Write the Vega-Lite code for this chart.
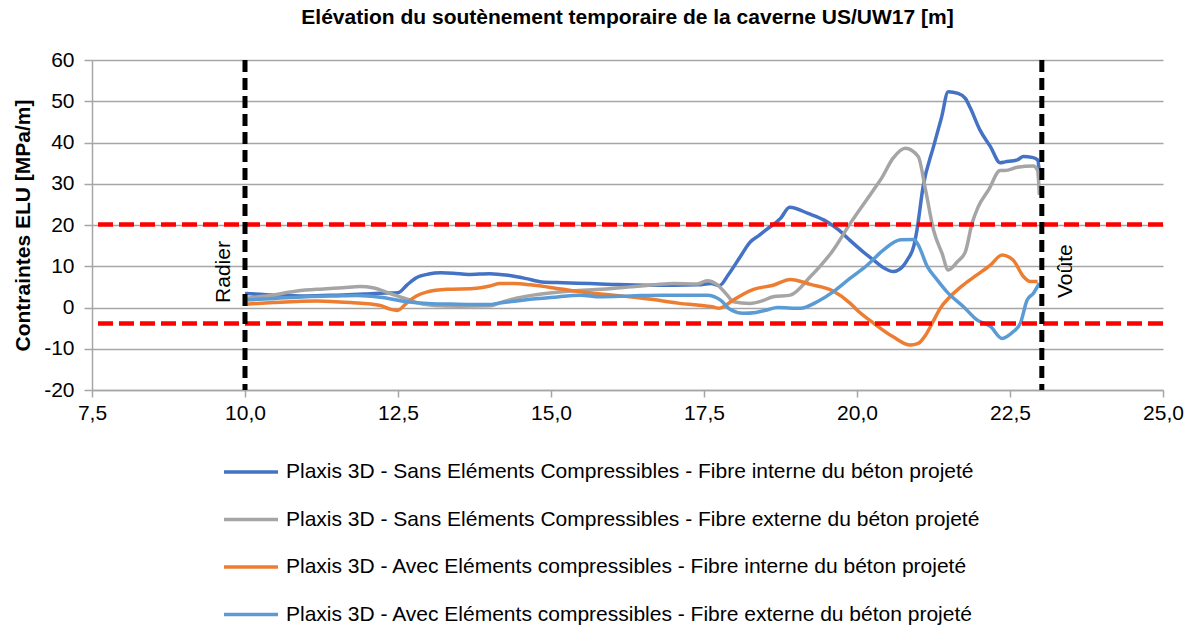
{
  "$schema": "https://vega.github.io/schema/vega-lite/v6.json",
  "width": 1071,
  "height": 330,
  "autosize": "none",
  "padding": {"left": 92, "top": 60, "right": 31, "bottom": 238},
  "background": "white",
  "config": {
    "font": "Liberation Sans",
    "view": {"stroke": null},
    "axis": {"labelFont": "Liberation Sans", "titleFont": "Liberation Sans", "labelColor": "#000000", "titleColor": "#000000"}
  },
  "title": {
    "text": "Elévation du soutènement temporaire de la caverne US/UW17 [m]",
    "font": "Liberation Sans",
    "fontSize": 21,
    "fontWeight": "bold",
    "color": "#000000",
    "anchor": "middle",
    "offset": 21
  },
  "datasets": {
    "series": [
      {"s": "Plaxis 3D - Sans Eléments Compressibles - Fibre interne du béton projeté", "x": 10.0, "y": 3.4},
      {"s": "Plaxis 3D - Sans Eléments Compressibles - Fibre interne du béton projeté", "x": 10.5, "y": 3.0},
      {"s": "Plaxis 3D - Sans Eléments Compressibles - Fibre interne du béton projeté", "x": 11.0, "y": 2.8},
      {"s": "Plaxis 3D - Sans Eléments Compressibles - Fibre interne du béton projeté", "x": 11.5, "y": 3.0},
      {"s": "Plaxis 3D - Sans Eléments Compressibles - Fibre interne du béton projeté", "x": 12.0, "y": 3.3},
      {"s": "Plaxis 3D - Sans Eléments Compressibles - Fibre interne du béton projeté", "x": 12.3, "y": 3.5},
      {"s": "Plaxis 3D - Sans Eléments Compressibles - Fibre interne du béton projeté", "x": 12.5, "y": 3.6},
      {"s": "Plaxis 3D - Sans Eléments Compressibles - Fibre interne du béton projeté", "x": 12.65, "y": 5.5},
      {"s": "Plaxis 3D - Sans Eléments Compressibles - Fibre interne du béton projeté", "x": 12.8, "y": 7.2},
      {"s": "Plaxis 3D - Sans Eléments Compressibles - Fibre interne du béton projeté", "x": 13.0, "y": 8.1},
      {"s": "Plaxis 3D - Sans Eléments Compressibles - Fibre interne du béton projeté", "x": 13.2, "y": 8.4},
      {"s": "Plaxis 3D - Sans Eléments Compressibles - Fibre interne du béton projeté", "x": 13.4, "y": 8.3},
      {"s": "Plaxis 3D - Sans Eléments Compressibles - Fibre interne du béton projeté", "x": 13.65, "y": 8.0},
      {"s": "Plaxis 3D - Sans Eléments Compressibles - Fibre interne du béton projeté", "x": 14.0, "y": 8.2},
      {"s": "Plaxis 3D - Sans Eléments Compressibles - Fibre interne du béton projeté", "x": 14.3, "y": 7.8},
      {"s": "Plaxis 3D - Sans Eléments Compressibles - Fibre interne du béton projeté", "x": 14.6, "y": 7.0},
      {"s": "Plaxis 3D - Sans Eléments Compressibles - Fibre interne du béton projeté", "x": 14.85, "y": 6.2},
      {"s": "Plaxis 3D - Sans Eléments Compressibles - Fibre interne du béton projeté", "x": 15.2, "y": 6.0},
      {"s": "Plaxis 3D - Sans Eléments Compressibles - Fibre interne du béton projeté", "x": 15.64, "y": 5.8},
      {"s": "Plaxis 3D - Sans Eléments Compressibles - Fibre interne du béton projeté", "x": 16.0, "y": 5.6},
      {"s": "Plaxis 3D - Sans Eléments Compressibles - Fibre interne du béton projeté", "x": 16.57, "y": 5.4},
      {"s": "Plaxis 3D - Sans Eléments Compressibles - Fibre interne du béton projeté", "x": 17.0, "y": 5.4},
      {"s": "Plaxis 3D - Sans Eléments Compressibles - Fibre interne du béton projeté", "x": 17.4, "y": 5.5},
      {"s": "Plaxis 3D - Sans Eléments Compressibles - Fibre interne du béton projeté", "x": 17.62, "y": 5.8},
      {"s": "Plaxis 3D - Sans Eléments Compressibles - Fibre interne du béton projeté", "x": 17.75, "y": 5.3},
      {"s": "Plaxis 3D - Sans Eléments Compressibles - Fibre interne du béton projeté", "x": 17.9, "y": 8.0},
      {"s": "Plaxis 3D - Sans Eléments Compressibles - Fibre interne du béton projeté", "x": 18.1, "y": 12.5},
      {"s": "Plaxis 3D - Sans Eléments Compressibles - Fibre interne du béton projeté", "x": 18.25, "y": 15.8},
      {"s": "Plaxis 3D - Sans Eléments Compressibles - Fibre interne du béton projeté", "x": 18.4, "y": 17.5},
      {"s": "Plaxis 3D - Sans Eléments Compressibles - Fibre interne du béton projeté", "x": 18.53, "y": 19.0},
      {"s": "Plaxis 3D - Sans Eléments Compressibles - Fibre interne du béton projeté", "x": 18.75, "y": 21.6},
      {"s": "Plaxis 3D - Sans Eléments Compressibles - Fibre interne du béton projeté", "x": 18.9, "y": 24.3},
      {"s": "Plaxis 3D - Sans Eléments Compressibles - Fibre interne du béton projeté", "x": 19.2, "y": 22.8},
      {"s": "Plaxis 3D - Sans Eléments Compressibles - Fibre interne du béton projeté", "x": 19.51, "y": 20.8},
      {"s": "Plaxis 3D - Sans Eléments Compressibles - Fibre interne du béton projeté", "x": 19.7, "y": 18.8},
      {"s": "Plaxis 3D - Sans Eléments Compressibles - Fibre interne du béton projeté", "x": 19.89, "y": 16.2},
      {"s": "Plaxis 3D - Sans Eléments Compressibles - Fibre interne du béton projeté", "x": 20.1, "y": 13.5},
      {"s": "Plaxis 3D - Sans Eléments Compressibles - Fibre interne du béton projeté", "x": 20.27, "y": 11.5},
      {"s": "Plaxis 3D - Sans Eléments Compressibles - Fibre interne du béton projeté", "x": 20.45, "y": 9.5},
      {"s": "Plaxis 3D - Sans Eléments Compressibles - Fibre interne du béton projeté", "x": 20.59, "y": 8.7},
      {"s": "Plaxis 3D - Sans Eléments Compressibles - Fibre interne du béton projeté", "x": 20.7, "y": 9.3},
      {"s": "Plaxis 3D - Sans Eléments Compressibles - Fibre interne du béton projeté", "x": 20.82, "y": 11.5},
      {"s": "Plaxis 3D - Sans Eléments Compressibles - Fibre interne du béton projeté", "x": 20.93, "y": 15.0},
      {"s": "Plaxis 3D - Sans Eléments Compressibles - Fibre interne du béton projeté", "x": 20.98, "y": 18.8},
      {"s": "Plaxis 3D - Sans Eléments Compressibles - Fibre interne du béton projeté", "x": 21.08, "y": 29.3},
      {"s": "Plaxis 3D - Sans Eléments Compressibles - Fibre interne du béton projeté", "x": 21.25, "y": 39.0},
      {"s": "Plaxis 3D - Sans Eléments Compressibles - Fibre interne du béton projeté", "x": 21.38, "y": 46.0},
      {"s": "Plaxis 3D - Sans Eléments Compressibles - Fibre interne du béton projeté", "x": 21.49, "y": 52.3},
      {"s": "Plaxis 3D - Sans Eléments Compressibles - Fibre interne du béton projeté", "x": 21.65, "y": 51.9},
      {"s": "Plaxis 3D - Sans Eléments Compressibles - Fibre interne du béton projeté", "x": 21.77, "y": 50.7},
      {"s": "Plaxis 3D - Sans Eléments Compressibles - Fibre interne du béton projeté", "x": 21.85, "y": 48.4},
      {"s": "Plaxis 3D - Sans Eléments Compressibles - Fibre interne du béton projeté", "x": 22.01, "y": 43.0},
      {"s": "Plaxis 3D - Sans Eléments Compressibles - Fibre interne du béton projeté", "x": 22.18, "y": 39.0},
      {"s": "Plaxis 3D - Sans Eléments Compressibles - Fibre interne du béton projeté", "x": 22.34, "y": 35.1},
      {"s": "Plaxis 3D - Sans Eléments Compressibles - Fibre interne du béton projeté", "x": 22.42, "y": 35.3},
      {"s": "Plaxis 3D - Sans Eléments Compressibles - Fibre interne du béton projeté", "x": 22.62, "y": 35.8},
      {"s": "Plaxis 3D - Sans Eléments Compressibles - Fibre interne du béton projeté", "x": 22.72, "y": 36.6},
      {"s": "Plaxis 3D - Sans Eléments Compressibles - Fibre interne du béton projeté", "x": 22.86, "y": 36.4},
      {"s": "Plaxis 3D - Sans Eléments Compressibles - Fibre interne du béton projeté", "x": 22.95, "y": 35.8},
      {"s": "Plaxis 3D - Sans Eléments Compressibles - Fibre interne du béton projeté", "x": 22.98, "y": 33.0},

      {"s": "Plaxis 3D - Sans Eléments Compressibles - Fibre externe du béton projeté", "x": 10.0, "y": 2.2},
      {"s": "Plaxis 3D - Sans Eléments Compressibles - Fibre externe du béton projeté", "x": 10.4, "y": 2.9},
      {"s": "Plaxis 3D - Sans Eléments Compressibles - Fibre externe du béton projeté", "x": 10.85, "y": 4.0},
      {"s": "Plaxis 3D - Sans Eléments Compressibles - Fibre externe du béton projeté", "x": 11.28, "y": 4.5},
      {"s": "Plaxis 3D - Sans Eléments Compressibles - Fibre externe du béton projeté", "x": 11.6, "y": 4.8},
      {"s": "Plaxis 3D - Sans Eléments Compressibles - Fibre externe du béton projeté", "x": 11.88, "y": 5.1},
      {"s": "Plaxis 3D - Sans Eléments Compressibles - Fibre externe du béton projeté", "x": 12.09, "y": 4.8},
      {"s": "Plaxis 3D - Sans Eléments Compressibles - Fibre externe du béton projeté", "x": 12.37, "y": 3.4},
      {"s": "Plaxis 3D - Sans Eléments Compressibles - Fibre externe du béton projeté", "x": 12.65, "y": 2.0},
      {"s": "Plaxis 3D - Sans Eléments Compressibles - Fibre externe du béton projeté", "x": 12.85, "y": 1.0},
      {"s": "Plaxis 3D - Sans Eléments Compressibles - Fibre externe du béton projeté", "x": 13.1, "y": 0.5},
      {"s": "Plaxis 3D - Sans Eléments Compressibles - Fibre externe du béton projeté", "x": 13.5, "y": 0.3},
      {"s": "Plaxis 3D - Sans Eléments Compressibles - Fibre externe du béton projeté", "x": 14.0, "y": 0.4},
      {"s": "Plaxis 3D - Sans Eléments Compressibles - Fibre externe du béton projeté", "x": 14.2, "y": 1.3},
      {"s": "Plaxis 3D - Sans Eléments Compressibles - Fibre externe du béton projeté", "x": 14.45, "y": 2.3},
      {"s": "Plaxis 3D - Sans Eléments Compressibles - Fibre externe du béton projeté", "x": 14.71, "y": 3.0},
      {"s": "Plaxis 3D - Sans Eléments Compressibles - Fibre externe du béton projeté", "x": 15.1, "y": 3.7},
      {"s": "Plaxis 3D - Sans Eléments Compressibles - Fibre externe du béton projeté", "x": 15.52, "y": 4.2},
      {"s": "Plaxis 3D - Sans Eléments Compressibles - Fibre externe du béton projeté", "x": 16.0, "y": 4.6},
      {"s": "Plaxis 3D - Sans Eléments Compressibles - Fibre externe du béton projeté", "x": 16.3, "y": 5.0},
      {"s": "Plaxis 3D - Sans Eléments Compressibles - Fibre externe du béton projeté", "x": 16.7, "y": 5.5},
      {"s": "Plaxis 3D - Sans Eléments Compressibles - Fibre externe du béton projeté", "x": 17.0, "y": 5.8},
      {"s": "Plaxis 3D - Sans Eléments Compressibles - Fibre externe du béton projeté", "x": 17.39, "y": 5.7},
      {"s": "Plaxis 3D - Sans Eléments Compressibles - Fibre externe du béton projeté", "x": 17.55, "y": 6.5},
      {"s": "Plaxis 3D - Sans Eléments Compressibles - Fibre externe du béton projeté", "x": 17.72, "y": 5.5},
      {"s": "Plaxis 3D - Sans Eléments Compressibles - Fibre externe du béton projeté", "x": 17.88, "y": 3.0},
      {"s": "Plaxis 3D - Sans Eléments Compressibles - Fibre externe du béton projeté", "x": 17.98, "y": 1.4},
      {"s": "Plaxis 3D - Sans Eléments Compressibles - Fibre externe du béton projeté", "x": 18.25, "y": 1.0},
      {"s": "Plaxis 3D - Sans Eléments Compressibles - Fibre externe du béton projeté", "x": 18.45, "y": 1.6},
      {"s": "Plaxis 3D - Sans Eléments Compressibles - Fibre externe du béton projeté", "x": 18.63, "y": 2.6},
      {"s": "Plaxis 3D - Sans Eléments Compressibles - Fibre externe du béton projeté", "x": 18.91, "y": 3.0},
      {"s": "Plaxis 3D - Sans Eléments Compressibles - Fibre externe du béton projeté", "x": 19.24, "y": 7.5},
      {"s": "Plaxis 3D - Sans Eléments Compressibles - Fibre externe du béton projeté", "x": 19.61, "y": 13.9},
      {"s": "Plaxis 3D - Sans Eléments Compressibles - Fibre externe du béton projeté", "x": 19.89, "y": 20.4},
      {"s": "Plaxis 3D - Sans Eléments Compressibles - Fibre externe du béton projeté", "x": 20.27, "y": 28.5},
      {"s": "Plaxis 3D - Sans Eléments Compressibles - Fibre externe du béton projeté", "x": 20.4, "y": 31.3},
      {"s": "Plaxis 3D - Sans Eléments Compressibles - Fibre externe du béton projeté", "x": 20.59, "y": 36.2},
      {"s": "Plaxis 3D - Sans Eléments Compressibles - Fibre externe du béton projeté", "x": 20.79, "y": 38.6},
      {"s": "Plaxis 3D - Sans Eléments Compressibles - Fibre externe du béton projeté", "x": 21.0, "y": 36.6},
      {"s": "Plaxis 3D - Sans Eléments Compressibles - Fibre externe du béton projeté", "x": 21.12, "y": 28.5},
      {"s": "Plaxis 3D - Sans Eléments Compressibles - Fibre externe du béton projeté", "x": 21.25, "y": 18.8},
      {"s": "Plaxis 3D - Sans Eléments Compressibles - Fibre externe du béton projeté", "x": 21.39, "y": 13.1},
      {"s": "Plaxis 3D - Sans Eléments Compressibles - Fibre externe du béton projeté", "x": 21.49, "y": 9.1},
      {"s": "Plaxis 3D - Sans Eléments Compressibles - Fibre externe du béton projeté", "x": 21.64, "y": 11.1},
      {"s": "Plaxis 3D - Sans Eléments Compressibles - Fibre externe du béton projeté", "x": 21.77, "y": 13.5},
      {"s": "Plaxis 3D - Sans Eléments Compressibles - Fibre externe du béton projeté", "x": 21.88, "y": 20.4},
      {"s": "Plaxis 3D - Sans Eléments Compressibles - Fibre externe du béton projeté", "x": 21.98, "y": 24.4},
      {"s": "Plaxis 3D - Sans Eléments Compressibles - Fibre externe du béton projeté", "x": 22.15, "y": 28.5},
      {"s": "Plaxis 3D - Sans Eléments Compressibles - Fibre externe du béton projeté", "x": 22.34, "y": 33.2},
      {"s": "Plaxis 3D - Sans Eléments Compressibles - Fibre externe du béton projeté", "x": 22.42, "y": 33.2},
      {"s": "Plaxis 3D - Sans Eléments Compressibles - Fibre externe du béton projeté", "x": 22.62, "y": 34.0},
      {"s": "Plaxis 3D - Sans Eléments Compressibles - Fibre externe du béton projeté", "x": 22.88, "y": 34.3},
      {"s": "Plaxis 3D - Sans Eléments Compressibles - Fibre externe du béton projeté", "x": 22.95, "y": 33.3},
      {"s": "Plaxis 3D - Sans Eléments Compressibles - Fibre externe du béton projeté", "x": 22.98, "y": 27.3},

      {"s": "Plaxis 3D - Avec Eléments compressibles - Fibre interne du béton projeté", "x": 10.0, "y": 0.8},
      {"s": "Plaxis 3D - Avec Eléments compressibles - Fibre interne du béton projeté", "x": 10.46, "y": 1.2},
      {"s": "Plaxis 3D - Avec Eléments compressibles - Fibre interne du béton projeté", "x": 11.18, "y": 1.6},
      {"s": "Plaxis 3D - Avec Eléments compressibles - Fibre interne du béton projeté", "x": 11.72, "y": 1.2},
      {"s": "Plaxis 3D - Avec Eléments compressibles - Fibre interne du béton projeté", "x": 12.21, "y": 0.5},
      {"s": "Plaxis 3D - Avec Eléments compressibles - Fibre interne du béton projeté", "x": 12.37, "y": -0.4},
      {"s": "Plaxis 3D - Avec Eléments compressibles - Fibre interne du béton projeté", "x": 12.49, "y": -0.7},
      {"s": "Plaxis 3D - Avec Eléments compressibles - Fibre interne du béton projeté", "x": 12.65, "y": 1.2},
      {"s": "Plaxis 3D - Avec Eléments compressibles - Fibre interne du béton projeté", "x": 12.8, "y": 2.8},
      {"s": "Plaxis 3D - Avec Eléments compressibles - Fibre interne du béton projeté", "x": 12.98, "y": 3.8},
      {"s": "Plaxis 3D - Avec Eléments compressibles - Fibre interne du béton projeté", "x": 13.3, "y": 4.4},
      {"s": "Plaxis 3D - Avec Eléments compressibles - Fibre interne du béton projeté", "x": 13.73, "y": 4.6},
      {"s": "Plaxis 3D - Avec Eléments compressibles - Fibre interne du béton projeté", "x": 14.0, "y": 5.2},
      {"s": "Plaxis 3D - Avec Eléments compressibles - Fibre interne du béton projeté", "x": 14.17, "y": 5.8},
      {"s": "Plaxis 3D - Avec Eléments compressibles - Fibre interne du béton projeté", "x": 14.4, "y": 5.8},
      {"s": "Plaxis 3D - Avec Eléments compressibles - Fibre interne du béton projeté", "x": 14.66, "y": 5.5},
      {"s": "Plaxis 3D - Avec Eléments compressibles - Fibre interne du béton projeté", "x": 15.2, "y": 4.4},
      {"s": "Plaxis 3D - Avec Eléments compressibles - Fibre interne du béton projeté", "x": 15.6, "y": 3.6},
      {"s": "Plaxis 3D - Avec Eléments compressibles - Fibre interne du béton projeté", "x": 16.02, "y": 3.0},
      {"s": "Plaxis 3D - Avec Eléments compressibles - Fibre interne du béton projeté", "x": 16.4, "y": 2.4},
      {"s": "Plaxis 3D - Avec Eléments compressibles - Fibre interne du béton projeté", "x": 16.83, "y": 1.6},
      {"s": "Plaxis 3D - Avec Eléments compressibles - Fibre interne du béton projeté", "x": 17.1, "y": 1.0},
      {"s": "Plaxis 3D - Avec Eléments compressibles - Fibre interne du béton projeté", "x": 17.39, "y": 0.6},
      {"s": "Plaxis 3D - Avec Eléments compressibles - Fibre interne du béton projeté", "x": 17.65, "y": 0.1},
      {"s": "Plaxis 3D - Avec Eléments compressibles - Fibre interne du béton projeté", "x": 17.75, "y": -0.2},
      {"s": "Plaxis 3D - Avec Eléments compressibles - Fibre interne du béton projeté", "x": 17.88, "y": 0.8},
      {"s": "Plaxis 3D - Avec Eléments compressibles - Fibre interne du béton projeté", "x": 17.98, "y": 1.8},
      {"s": "Plaxis 3D - Avec Eléments compressibles - Fibre interne du béton projeté", "x": 18.31, "y": 4.4},
      {"s": "Plaxis 3D - Avec Eléments compressibles - Fibre interne du béton projeté", "x": 18.63, "y": 5.4},
      {"s": "Plaxis 3D - Avec Eléments compressibles - Fibre interne du béton projeté", "x": 18.91, "y": 6.8},
      {"s": "Plaxis 3D - Avec Eléments compressibles - Fibre interne du béton projeté", "x": 19.24, "y": 5.6},
      {"s": "Plaxis 3D - Avec Eléments compressibles - Fibre interne du béton projeté", "x": 19.61, "y": 4.0},
      {"s": "Plaxis 3D - Avec Eléments compressibles - Fibre interne du béton projeté", "x": 19.89, "y": 1.0},
      {"s": "Plaxis 3D - Avec Eléments compressibles - Fibre interne du béton projeté", "x": 20.0, "y": -0.6},
      {"s": "Plaxis 3D - Avec Eléments compressibles - Fibre interne du béton projeté", "x": 20.27, "y": -3.8},
      {"s": "Plaxis 3D - Avec Eléments compressibles - Fibre interne du béton projeté", "x": 20.59, "y": -7.1},
      {"s": "Plaxis 3D - Avec Eléments compressibles - Fibre interne du béton projeté", "x": 20.87, "y": -9.1},
      {"s": "Plaxis 3D - Avec Eléments compressibles - Fibre interne du béton projeté", "x": 21.0, "y": -8.7},
      {"s": "Plaxis 3D - Avec Eléments compressibles - Fibre interne du béton projeté", "x": 21.12, "y": -6.7},
      {"s": "Plaxis 3D - Avec Eléments compressibles - Fibre interne du béton projeté", "x": 21.23, "y": -3.8},
      {"s": "Plaxis 3D - Avec Eléments compressibles - Fibre interne du béton projeté", "x": 21.36, "y": -0.2},
      {"s": "Plaxis 3D - Avec Eléments compressibles - Fibre interne du béton projeté", "x": 21.52, "y": 2.6},
      {"s": "Plaxis 3D - Avec Eléments compressibles - Fibre interne du béton projeté", "x": 21.74, "y": 5.5},
      {"s": "Plaxis 3D - Avec Eléments compressibles - Fibre interne du béton projeté", "x": 21.96, "y": 7.9},
      {"s": "Plaxis 3D - Avec Eléments compressibles - Fibre interne du béton projeté", "x": 22.18, "y": 10.3},
      {"s": "Plaxis 3D - Avec Eléments compressibles - Fibre interne du béton projeté", "x": 22.37, "y": 12.7},
      {"s": "Plaxis 3D - Avec Eléments compressibles - Fibre interne du béton projeté", "x": 22.55, "y": 11.5},
      {"s": "Plaxis 3D - Avec Eléments compressibles - Fibre interne du béton projeté", "x": 22.72, "y": 7.5},
      {"s": "Plaxis 3D - Avec Eléments compressibles - Fibre interne du béton projeté", "x": 22.83, "y": 6.3},
      {"s": "Plaxis 3D - Avec Eléments compressibles - Fibre interne du béton projeté", "x": 22.95, "y": 6.3},

      {"s": "Plaxis 3D - Avec Eléments compressibles - Fibre externe du béton projeté", "x": 10.0, "y": 1.8},
      {"s": "Plaxis 3D - Avec Eléments compressibles - Fibre externe du béton projeté", "x": 10.5, "y": 2.2},
      {"s": "Plaxis 3D - Avec Eléments compressibles - Fibre externe du béton projeté", "x": 11.0, "y": 2.6},
      {"s": "Plaxis 3D - Avec Eléments compressibles - Fibre externe du béton projeté", "x": 11.5, "y": 2.8},
      {"s": "Plaxis 3D - Avec Eléments compressibles - Fibre externe du béton projeté", "x": 11.83, "y": 2.9},
      {"s": "Plaxis 3D - Avec Eléments compressibles - Fibre externe du béton projeté", "x": 12.21, "y": 2.5},
      {"s": "Plaxis 3D - Avec Eléments compressibles - Fibre externe du béton projeté", "x": 12.65, "y": 1.4},
      {"s": "Plaxis 3D - Avec Eléments compressibles - Fibre externe du béton projeté", "x": 12.98, "y": 1.0},
      {"s": "Plaxis 3D - Avec Eléments compressibles - Fibre externe du béton projeté", "x": 13.47, "y": 0.8},
      {"s": "Plaxis 3D - Avec Eléments compressibles - Fibre externe du béton projeté", "x": 14.0, "y": 0.7},
      {"s": "Plaxis 3D - Avec Eléments compressibles - Fibre externe du béton projeté", "x": 14.12, "y": 1.0},
      {"s": "Plaxis 3D - Avec Eléments compressibles - Fibre externe du béton projeté", "x": 14.4, "y": 1.5},
      {"s": "Plaxis 3D - Avec Eléments compressibles - Fibre externe du béton projeté", "x": 14.66, "y": 2.0},
      {"s": "Plaxis 3D - Avec Eléments compressibles - Fibre externe du béton projeté", "x": 15.0, "y": 2.4},
      {"s": "Plaxis 3D - Avec Eléments compressibles - Fibre externe du béton projeté", "x": 15.48, "y": 3.0},
      {"s": "Plaxis 3D - Avec Eléments compressibles - Fibre externe du béton projeté", "x": 15.8, "y": 2.6},
      {"s": "Plaxis 3D - Avec Eléments compressibles - Fibre externe du béton projeté", "x": 16.3, "y": 2.8},
      {"s": "Plaxis 3D - Avec Eléments compressibles - Fibre externe du béton projeté", "x": 16.83, "y": 3.0},
      {"s": "Plaxis 3D - Avec Eléments compressibles - Fibre externe du béton projeté", "x": 17.55, "y": 3.0},
      {"s": "Plaxis 3D - Avec Eléments compressibles - Fibre externe du béton projeté", "x": 17.77, "y": 1.8},
      {"s": "Plaxis 3D - Avec Eléments compressibles - Fibre externe du béton projeté", "x": 17.93, "y": -0.5},
      {"s": "Plaxis 3D - Avec Eléments compressibles - Fibre externe du béton projeté", "x": 18.14, "y": -1.4},
      {"s": "Plaxis 3D - Avec Eléments compressibles - Fibre externe du béton projeté", "x": 18.35, "y": -1.2},
      {"s": "Plaxis 3D - Avec Eléments compressibles - Fibre externe du béton projeté", "x": 18.53, "y": -0.6},
      {"s": "Plaxis 3D - Avec Eléments compressibles - Fibre externe du béton projeté", "x": 18.7, "y": 0.0},
      {"s": "Plaxis 3D - Avec Eléments compressibles - Fibre externe du béton projeté", "x": 19.07, "y": -0.2},
      {"s": "Plaxis 3D - Avec Eléments compressibles - Fibre externe du béton projeté", "x": 19.2, "y": 0.3},
      {"s": "Plaxis 3D - Avec Eléments compressibles - Fibre externe du béton projeté", "x": 19.35, "y": 1.4},
      {"s": "Plaxis 3D - Avec Eléments compressibles - Fibre externe du béton projeté", "x": 19.61, "y": 3.8},
      {"s": "Plaxis 3D - Avec Eléments compressibles - Fibre externe du béton projeté", "x": 19.89, "y": 7.1},
      {"s": "Plaxis 3D - Avec Eléments compressibles - Fibre externe du béton projeté", "x": 20.17, "y": 10.3},
      {"s": "Plaxis 3D - Avec Eléments compressibles - Fibre externe du béton projeté", "x": 20.43, "y": 13.9},
      {"s": "Plaxis 3D - Avec Eléments compressibles - Fibre externe du béton projeté", "x": 20.71, "y": 16.4},
      {"s": "Plaxis 3D - Avec Eléments compressibles - Fibre externe du béton projeté", "x": 20.93, "y": 16.5},
      {"s": "Plaxis 3D - Avec Eléments compressibles - Fibre externe du béton projeté", "x": 21.0, "y": 15.2},
      {"s": "Plaxis 3D - Avec Eléments compressibles - Fibre externe du béton projeté", "x": 21.15, "y": 9.9},
      {"s": "Plaxis 3D - Avec Eléments compressibles - Fibre externe du béton projeté", "x": 21.31, "y": 6.7},
      {"s": "Plaxis 3D - Avec Eléments compressibles - Fibre externe du béton projeté", "x": 21.47, "y": 3.8},
      {"s": "Plaxis 3D - Avec Eléments compressibles - Fibre externe du béton projeté", "x": 21.74, "y": 0.2},
      {"s": "Plaxis 3D - Avec Eléments compressibles - Fibre externe du béton projeté", "x": 21.96, "y": -3.0},
      {"s": "Plaxis 3D - Avec Eléments compressibles - Fibre externe du béton projeté", "x": 22.18, "y": -4.6},
      {"s": "Plaxis 3D - Avec Eléments compressibles - Fibre externe du béton projeté", "x": 22.37, "y": -7.5},
      {"s": "Plaxis 3D - Avec Eléments compressibles - Fibre externe du béton projeté", "x": 22.55, "y": -5.9},
      {"s": "Plaxis 3D - Avec Eléments compressibles - Fibre externe du béton projeté", "x": 22.67, "y": -3.8},
      {"s": "Plaxis 3D - Avec Eléments compressibles - Fibre externe du béton projeté", "x": 22.78, "y": 1.8},
      {"s": "Plaxis 3D - Avec Eléments compressibles - Fibre externe du béton projeté", "x": 22.88, "y": 3.4},
      {"s": "Plaxis 3D - Avec Eléments compressibles - Fibre externe du béton projeté", "x": 22.98, "y": 5.9}
    ],
    "limits": [{"y": 20.1}, {"y": -3.9}],
    "sections": [{"x": 10.0}, {"x": 23.02}]
  },
  "layer": [
    {
      "data": {"name": "series"},
      "mark": {"type": "line", "strokeWidth": 3.5, "interpolate": "monotone"},
      "encoding": {
        "x": {
          "field": "x", "type": "quantitative",
          "scale": {"domain": [7.5, 25], "nice": false, "zero": false},
          "axis": {
            "values": [7.5, 10, 12.5, 15, 17.5, 20, 22.5, 25],
            "labelExpr": "replace(format(datum.value, '.1f'), '.', ',')",
            "title": null, "grid": false,
            "domainColor": "#a6a6a6", "domainWidth": 1.5,
            "tickColor": "#a6a6a6", "tickWidth": 1.5, "tickSize": 7,
            "labelFontSize": 21, "labelPadding": 5, "labelFlush": false
          }
        },
        "y": {
          "field": "y", "type": "quantitative",
          "scale": {"domain": [-20, 60], "nice": false, "zero": false},
          "axis": {
            "values": [-20, -10, 0, 10, 20, 30, 40, 50, 60],
            "labelExpr": "'' + datum.value",
            "title": "Contraintes ELU [MPa/m]",
            "titleFontSize": 21, "titleFontWeight": "bold", "titlePadding": 10,
            "grid": true, "gridColor": "#a6a6a6", "gridWidth": 1.5,
            "domainColor": "#a6a6a6", "domainWidth": 1.5,
            "tickColor": "#a6a6a6", "tickWidth": 1.5, "tickSize": 8,
            "labelFontSize": 21, "labelPadding": 10
          }
        },
        "color": {
          "field": "s", "type": "nominal",
          "scale": {
            "domain": [
              "Plaxis 3D - Sans Eléments Compressibles - Fibre interne du béton projeté",
              "Plaxis 3D - Sans Eléments Compressibles - Fibre externe du béton projeté",
              "Plaxis 3D - Avec Eléments compressibles - Fibre interne du béton projeté",
              "Plaxis 3D - Avec Eléments compressibles - Fibre externe du béton projeté"
            ],
            "range": ["#4472C4", "#A5A5A5", "#ED7D31", "#5B9BD5"]
          },
          "legend": {
            "title": null,
            "orient": "none",
            "legendX": 130,
            "legendY": 383,
            "direction": "vertical",
            "symbolType": "stroke",
            "symbolSize": 2916,
            "symbolStrokeWidth": 3.5,
            "labelFontSize": 21,
            "labelFont": "Liberation Sans",
            "labelColor": "#000000",
            "labelLimit": 900,
            "labelOffset": 6,
            "rowPadding": 8.5
          }
        }
      }
    },
    {
      "data": {"name": "limits"},
      "mark": {"type": "rule", "color": "#FF0000", "strokeWidth": 4.5, "strokeDash": [15, 6]},
      "encoding": {"y": {"field": "y", "type": "quantitative"}}
    },
    {
      "data": {"name": "sections"},
      "mark": {"type": "rule", "color": "#000000", "strokeWidth": 5, "strokeDash": [12, 6]},
      "encoding": {"x": {"field": "x", "type": "quantitative"}}
    },
    {
      "data": {"values": [{"label": "Radier", "x": 10.0, "y": 1.1}]},
      "mark": {"type": "text", "angle": 270, "align": "left", "baseline": "alphabetic", "dy": -15, "fontSize": 21, "font": "Liberation Sans", "color": "#000000"},
      "encoding": {
        "x": {"field": "x", "type": "quantitative"},
        "y": {"field": "y", "type": "quantitative"},
        "text": {"field": "label"}
      }
    },
    {
      "data": {"values": [{"label": "Voûte", "x": 23.02, "y": 2.3}]},
      "mark": {"type": "text", "angle": 270, "align": "left", "baseline": "alphabetic", "dy": 30, "fontSize": 21, "font": "Liberation Sans", "color": "#000000"},
      "encoding": {
        "x": {"field": "x", "type": "quantitative"},
        "y": {"field": "y", "type": "quantitative"},
        "text": {"field": "label"}
      }
    }
  ]
}
